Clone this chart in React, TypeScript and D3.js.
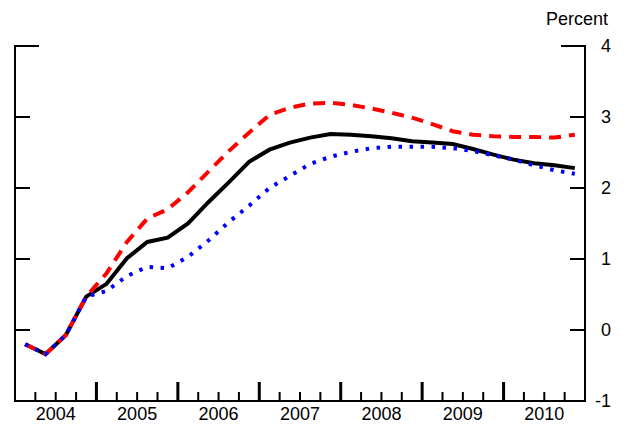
import React, { useEffect, useRef } from 'react';
import * as d3 from 'd3';

// quarterly observations, 2004Q1 - 2010Q4
const quarters = [
  '2004Q1', '2004Q2', '2004Q3', '2004Q4',
  '2005Q1', '2005Q2', '2005Q3', '2005Q4',
  '2006Q1', '2006Q2', '2006Q3', '2006Q4',
  '2007Q1', '2007Q2', '2007Q3', '2007Q4',
  '2008Q1', '2008Q2', '2008Q3', '2008Q4',
  '2009Q1', '2009Q2', '2009Q3', '2009Q4',
  '2010Q1', '2010Q2', '2010Q3', '2010Q4',
];

const baseline = [
  -0.2, -0.34, -0.07, 0.47,
  0.65, 1.01, 1.24, 1.3,
  1.5, 1.8, 2.08, 2.37,
  2.54, 2.64, 2.71, 2.76,
  2.75, 2.73, 2.7, 2.66,
  2.64, 2.62, 2.55, 2.47,
  2.4, 2.35, 2.32, 2.28,
];

const upper = [
  -0.2, -0.34, -0.07, 0.47,
  0.8, 1.24, 1.57, 1.7,
  1.94, 2.23, 2.52, 2.78,
  3.03, 3.13, 3.19, 3.2,
  3.17, 3.12, 3.06, 2.99,
  2.9, 2.8, 2.75, 2.73,
  2.72, 2.72, 2.71, 2.75,
];

const lower = [
  -0.2, -0.34, -0.07, 0.47,
  0.55, 0.76, 0.89, 0.87,
  1.03, 1.26, 1.52, 1.75,
  2.0, 2.17, 2.34, 2.44,
  2.51, 2.56, 2.58, 2.58,
  2.58, 2.56, 2.52, 2.46,
  2.4, 2.32, 2.25, 2.2,
];

const years = [2004, 2005, 2006, 2007, 2008, 2009, 2010];
const yTicks = [-1, 0, 1, 2, 3, 4];

const width = 627;
const height = 428;
const font = '"Liberation Sans", Arial, sans-serif';

const toYear = (q: string) => +q.slice(0, 4) + (+q.slice(5) - 0.5) / 4;

export default function App() {
  const svgRef = useRef<SVGSVGElement>(null);

  useEffect(() => {
    const svg = d3.select(svgRef.current);
    svg.selectAll('*').remove();

    const x = d3.scaleLinear().domain([2004, 2011]).range([15, 585]);
    const y = d3.scaleLinear().domain([-1, 4]).range([401, 46]);
    const left = x(2004);
    const right = x(2011);

    // frame
    const axis = svg.append('g').attr('stroke', '#000').attr('stroke-width', 2);
    axis.append('line').attr('x1', left).attr('x2', left).attr('y1', y(4) - 1).attr('y2', y(-1) + 1);
    axis.append('line').attr('x1', right).attr('x2', right).attr('y1', y(4) - 1).attr('y2', y(-1) + 1);
    axis.append('line').attr('x1', left - 1).attr('x2', right + 1).attr('y1', y(-1)).attr('y2', y(-1));

    // y ticks on both sides (top one longer)
    yTicks
      .filter((t) => t > -1)
      .forEach((t) => {
        const len = t === 4 ? 24 : 15;
        axis.append('line').attr('x1', left).attr('x2', left + len).attr('y1', y(t)).attr('y2', y(t));
        axis.append('line').attr('x1', right - len).attr('x2', right).attr('y1', y(t)).attr('y2', y(t));
      });

    // x ticks: quarters minor, years major
    d3.range(2004, 2011.001, 0.25).forEach((v) => {
      const major = Math.abs(v - Math.round(v)) < 1e-6;
      if (v === 2004 || v === 2011) return;
      axis
        .append('line')
        .attr('x1', x(v))
        .attr('x2', x(v))
        .attr('y1', y(-1))
        .attr('y2', y(-1) - (major ? 19 : 9))
        .attr('stroke-width', major ? 3 : 2);
    });

    // labels
    svg
      .append('g')
      .selectAll('text')
      .data(years)
      .enter()
      .append('text')
      .attr('x', (d) => x(d + 0.5))
      .attr('y', 420)
      .attr('text-anchor', 'middle')
      .attr('font-family', font)
      .attr('font-size', 18)
      .text((d) => d);

    svg
      .append('g')
      .selectAll('text')
      .data(yTicks)
      .enter()
      .append('text')
      .attr('x', 611)
      .attr('y', (d) => y(d) + 6)
      .attr('text-anchor', 'end')
      .attr('font-family', font)
      .attr('font-size', 18)
      .text((d) => d);

    svg
      .append('text')
      .attr('x', 608)
      .attr('y', 25)
      .attr('text-anchor', 'end')
      .attr('font-family', font)
      .attr('font-size', 18)
      .text('Percent');

    // lines
    const line = d3
      .line<number>()
      .x((d, i) => x(toYear(quarters[i])))
      .y((d) => y(d));

    svg
      .append('path')
      .datum(baseline)
      .attr('d', line)
      .attr('fill', 'none')
      .attr('stroke', '#000')
      .attr('stroke-width', 4);

    svg
      .append('path')
      .datum(upper)
      .attr('d', line)
      .attr('fill', 'none')
      .attr('stroke', '#ff0000')
      .attr('stroke-width', 4)
      .attr('stroke-dasharray', '12,8');

    svg
      .append('path')
      .datum(lower)
      .attr('d', line)
      .attr('fill', 'none')
      .attr('stroke', '#0000ff')
      .attr('stroke-width', 4)
      .attr('stroke-dasharray', '3.5,7.5');
  }, []);

  return (
    <svg
      ref={svgRef}
      width={width}
      height={height}
      style={{ position: 'absolute', left: 0, top: 0, background: '#fff' }}
    ></svg>
  );
}
